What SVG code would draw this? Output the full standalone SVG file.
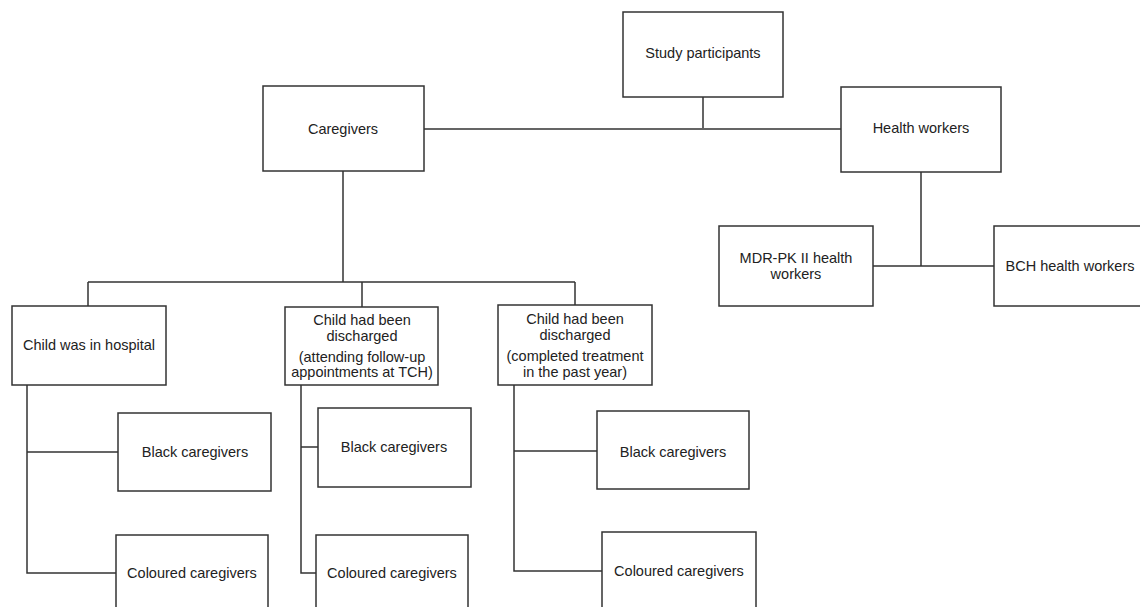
<svg xmlns="http://www.w3.org/2000/svg" width="1140" height="607" viewBox="0 0 1140 607">
<style>
.box{fill:#fff;stroke:#333;stroke-width:1.5}
.ln{fill:none;stroke:#333;stroke-width:1.5}
text{font-family:"Liberation Sans",Arial,sans-serif;font-size:14.5px;fill:#222;text-anchor:middle;dominant-baseline:central}
</style>
<rect width="1140" height="607" fill="#fff"/>
<g id="connectors">
<path class="ln" d="M703 97V128M424 129H841"/>
<path class="ln" d="M921 172V266M873 266H994"/>
<path class="ln" d="M343 171V282M88 282H575M88 282V306M362 282V307M575 282V305"/>
<path class="ln" d="M27 385V573H116M27 452H118"/>
<path class="ln" d="M301 385V573H316M301 447H318"/>
<path class="ln" d="M514 385V571H602M514 451H597"/>
</g>
<g id="study"><rect class="box" x="623" y="12" width="160" height="85"/><text x="703" y="53">Study participants</text></g>
<g id="caregivers"><rect class="box" x="263" y="86" width="161" height="85"/><text x="343" y="129">Caregivers</text></g>
<g id="health"><rect class="box" x="841" y="87" width="160" height="85"/><text x="921" y="128">Health workers</text></g>
<g id="mdr"><rect class="box" x="719" y="226" width="154" height="80"/><text x="796" y="258">MDR-PK II health</text><text x="796" y="274">workers</text></g>
<g id="bch"><rect class="box" x="994" y="226" width="154" height="80"/><text x="1070" y="266">BCH health workers</text></g>
<g id="hospital"><rect class="box" x="12" y="306" width="154" height="79"/><text x="89" y="345">Child was in hospital</text></g>
<g id="discharged1"><rect class="box" x="285" y="307" width="153" height="78"/><text x="362" y="320">Child had been</text><text x="362" y="336">discharged</text><text x="362" y="357">(attending follow-up</text><text x="362" y="372">appointments at TCH)</text></g>
<g id="discharged2"><rect class="box" x="498" y="305" width="154" height="80"/><text x="575" y="319">Child had been</text><text x="575" y="335">discharged</text><text x="575" y="356">(completed treatment</text><text x="575" y="372">in the past year)</text></g>
<g id="black1"><rect class="box" x="118" y="413" width="153" height="78"/><text x="195" y="452">Black caregivers</text></g>
<g id="coloured1"><rect class="box" x="116" y="535" width="152" height="80"/><text x="192" y="573">Coloured caregivers</text></g>
<g id="black2"><rect class="box" x="318" y="408" width="153" height="79"/><text x="394" y="447">Black caregivers</text></g>
<g id="coloured2"><rect class="box" x="316" y="535" width="152" height="80"/><text x="392" y="573">Coloured caregivers</text></g>
<g id="black3"><rect class="box" x="597" y="411" width="152" height="78"/><text x="673" y="452">Black caregivers</text></g>
<g id="coloured3"><rect class="box" x="602" y="532" width="154" height="83"/><text x="679" y="571">Coloured caregivers</text></g>
</svg>
